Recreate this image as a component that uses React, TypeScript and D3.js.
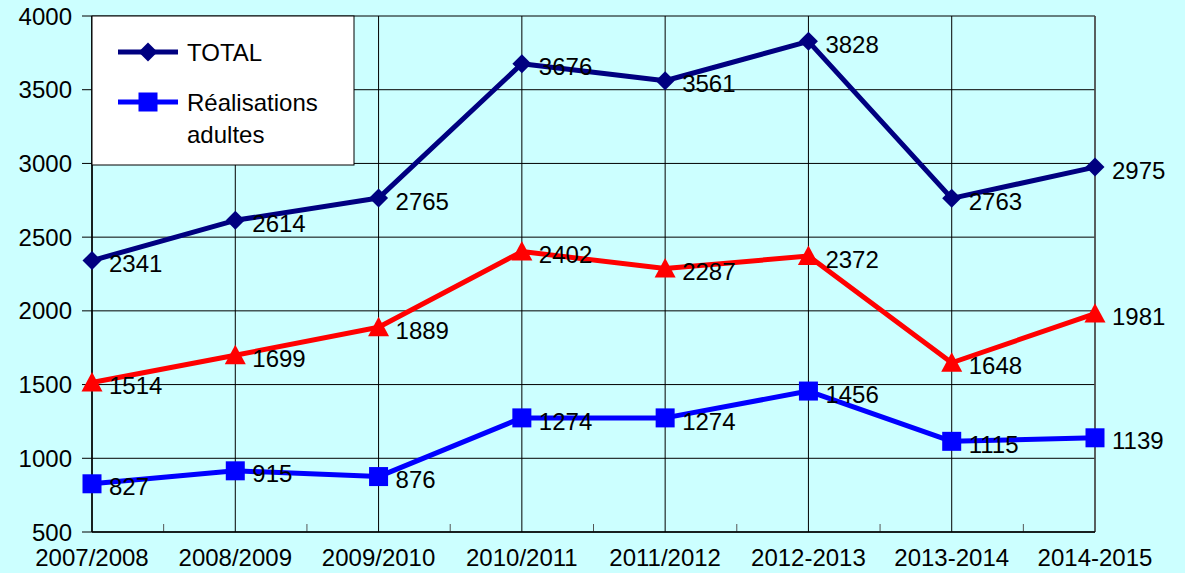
import React from "react";
import * as d3 from "d3";

const categories = ["2007/2008", "2008/2009", "2009/2010", "2010/2011", "2011/2012", "2012-2013", "2013-2014", "2014-2015"];
const totalValues = [2341, 2614, 2765, 3676, 3561, 3828, 2763, 2975];
const otherValues = [1514, 1699, 1889, 2402, 2287, 2372, 1648, 1981];
const adultValues = [827, 915, 876, 1274, 1274, 1456, 1115, 1139];
const yTicks = [500, 1000, 1500, 2000, 2500, 3000, 3500, 4000];

const W = 1185, H = 573;
const left = 92, right = 1095, top = 16, bottom = 532;
const FONT = "'Liberation Sans', Arial, sans-serif";

export default function App() {
  const x = d3.scalePoint<string>().domain(categories).range([left, right]).padding(0);
  const y = d3.scaleLinear().domain([500, 4000]).range([bottom, top]);
  const line = d3.line<number>().x((_, i) => x(categories[i])!).y((d) => y(d));
  const step = x.step();

  const series = [
    { key: "total", values: totalValues, color: "#000080", marker: "diamond" },
    { key: "other", values: otherValues, color: "#ff0000", marker: "triangle" },
    { key: "adult", values: adultValues, color: "#0000ff", marker: "square" },
  ];

  const marker = (type: string, cx: number, cy: number, color: string, k: string) => {
    if (type === "diamond") {
      const r = 9.5;
      return <path key={k} d={`M${cx},${cy - r}L${cx + r},${cy}L${cx},${cy + r}L${cx - r},${cy}Z`} fill={color} />;
    }
    if (type === "square") {
      const s = 9.5;
      return <rect key={k} x={cx - s} y={cy - s} width={2 * s} height={2 * s} fill={color} />;
    }
    const s = 10.5;
    return <path key={k} d={`M${cx},${cy - s}L${cx + s},${cy + s * 0.85}L${cx - s},${cy + s * 0.85}Z`} fill={color} />;
  };

  return (
    <svg width={W} height={H} style={{ position: "absolute", left: 0, top: 0, display: "block" }} fontFamily={FONT}>
      <rect x={0} y={0} width={W} height={H} fill="#ccffff" />
      {/* horizontal gridlines */}
      {yTicks.map((t) => (
        <g key={t}>
          <line x1={left - 10} x2={right} y1={y(t)} y2={y(t)} stroke="#000" strokeWidth={1} />
          <text x={72} y={y(t)} dy="0.36em" textAnchor="end" fontSize={24} fill="#000">{t}</text>
        </g>
      ))}
      {/* vertical gridlines */}
      {categories.map((c) => (
        <line key={c} x1={x(c)} x2={x(c)} y1={top} y2={bottom} stroke="#000" strokeWidth={1} />
      ))}
      <line x1={right} x2={right} y1={top} y2={bottom} stroke="#555" strokeWidth={1.5} />
      {/* minor ticks */}
      {categories.slice(0, -1).map((c) => (
        <line key={"m" + c} x1={x(c)! + step / 2} x2={x(c)! + step / 2} y1={bottom - 8} y2={bottom} stroke="#555" strokeWidth={1} />
      ))}
      <line x1={left} x2={right} y1={bottom} y2={bottom} stroke="#000" strokeWidth={1.5} />
      <line x1={left} x2={left} y1={top} y2={bottom} stroke="#000" strokeWidth={1.5} />
      {/* x labels */}
      {categories.map((c) => (
        <text key={"l" + c} x={x(c)} y={566} textAnchor="middle" fontSize={24} fill="#000">{c}</text>
      ))}
      {/* series */}
      {series.map((s) => (
        <g key={s.key}>
          <path d={line(s.values)!} fill="none" stroke={s.color} strokeWidth={5} strokeLinejoin="round" />
          {s.values.map((v, i) => marker(s.marker, x(categories[i])!, y(v), s.color, s.key + i))}
          {s.values.map((v, i) => (
            <text key={"t" + s.key + i} x={x(categories[i])! + 17} y={y(v) + 3} dy="0.36em" fontSize={24} fill="#000">{v}</text>
          ))}
        </g>
      ))}
      {/* legend */}
      <rect x={left} y={top} width={262} height={149} fill="#fff" stroke="#000" strokeWidth={1} />
      <line x1={118} x2={178} y1={52} y2={52} stroke="#000080" strokeWidth={5} />
      {marker("diamond", 148, 52, "#000080", "lg1")}
      <text x={187} y={52} dy="0.36em" fontSize={24} fill="#000">TOTAL</text>
      <line x1={118} x2={178} y1={102} y2={102} stroke="#0000ff" strokeWidth={5} />
      {marker("square", 148, 102, "#0000ff", "lg2")}
      <text x={187} y={102} dy="0.36em" fontSize={24} fill="#000">Réalisations</text>
      <text x={187} y={134} dy="0.36em" fontSize={24} fill="#000">adultes</text>
    </svg>
  );
}
